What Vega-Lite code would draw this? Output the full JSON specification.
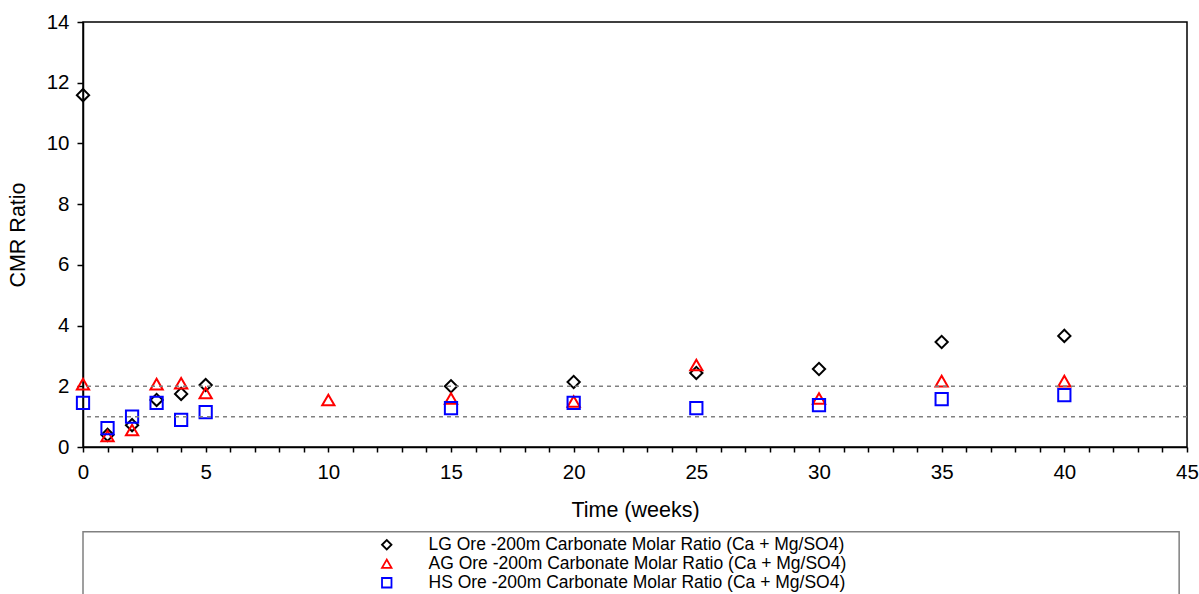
{
  "$schema": "https://vega.github.io/schema/vega-lite/v6.json",
  "width": 1104,
  "height": 425,
  "autosize": {"type": "none"},
  "padding": {"left": 83, "top": 22, "right": 12, "bottom": 147},
  "background": "white",
  "config": {
    "font": "Liberation Sans",
    "view": {"stroke": "#000000", "strokeWidth": 1.5},
    "axis": {"grid": false, "domainColor": "#000000", "domainWidth": 1.5, "tickColor": "#000000", "tickWidth": 1.5, "labelColor": "#000000", "titleColor": "#000000", "labelFont": "Liberation Sans", "titleFont": "Liberation Sans", "labelFontSize": 20.5, "titleFontSize": 21.5, "titleFontWeight": "normal"}
  },
  "datasets": {
    "pts": [
      {"week": 0, "series": "LG Ore -200m Carbonate Molar Ratio (Ca + Mg/SO4)", "cmr": 11.59},
      {"week": 1, "series": "LG Ore -200m Carbonate Molar Ratio (Ca + Mg/SO4)", "cmr": 0.4},
      {"week": 2, "series": "LG Ore -200m Carbonate Molar Ratio (Ca + Mg/SO4)", "cmr": 0.72},
      {"week": 3, "series": "LG Ore -200m Carbonate Molar Ratio (Ca + Mg/SO4)", "cmr": 1.55},
      {"week": 4, "series": "LG Ore -200m Carbonate Molar Ratio (Ca + Mg/SO4)", "cmr": 1.75},
      {"week": 5, "series": "LG Ore -200m Carbonate Molar Ratio (Ca + Mg/SO4)", "cmr": 2.04},
      {"week": 15, "series": "LG Ore -200m Carbonate Molar Ratio (Ca + Mg/SO4)", "cmr": 2.0},
      {"week": 20, "series": "LG Ore -200m Carbonate Molar Ratio (Ca + Mg/SO4)", "cmr": 2.14},
      {"week": 25, "series": "LG Ore -200m Carbonate Molar Ratio (Ca + Mg/SO4)", "cmr": 2.44},
      {"week": 30, "series": "LG Ore -200m Carbonate Molar Ratio (Ca + Mg/SO4)", "cmr": 2.57},
      {"week": 35, "series": "LG Ore -200m Carbonate Molar Ratio (Ca + Mg/SO4)", "cmr": 3.46},
      {"week": 40, "series": "LG Ore -200m Carbonate Molar Ratio (Ca + Mg/SO4)", "cmr": 3.66},
      {"week": 0, "series": "AG Ore -200m Carbonate Molar Ratio (Ca + Mg/SO4)", "cmr": 2.07},
      {"week": 1, "series": "AG Ore -200m Carbonate Molar Ratio (Ca + Mg/SO4)", "cmr": 0.36},
      {"week": 2, "series": "AG Ore -200m Carbonate Molar Ratio (Ca + Mg/SO4)", "cmr": 0.56},
      {"week": 3, "series": "AG Ore -200m Carbonate Molar Ratio (Ca + Mg/SO4)", "cmr": 2.07},
      {"week": 4, "series": "AG Ore -200m Carbonate Molar Ratio (Ca + Mg/SO4)", "cmr": 2.1},
      {"week": 5, "series": "AG Ore -200m Carbonate Molar Ratio (Ca + Mg/SO4)", "cmr": 1.78},
      {"week": 10, "series": "AG Ore -200m Carbonate Molar Ratio (Ca + Mg/SO4)", "cmr": 1.55},
      {"week": 15, "series": "AG Ore -200m Carbonate Molar Ratio (Ca + Mg/SO4)", "cmr": 1.6},
      {"week": 20, "series": "AG Ore -200m Carbonate Molar Ratio (Ca + Mg/SO4)", "cmr": 1.5},
      {"week": 25, "series": "AG Ore -200m Carbonate Molar Ratio (Ca + Mg/SO4)", "cmr": 2.7},
      {"week": 30, "series": "AG Ore -200m Carbonate Molar Ratio (Ca + Mg/SO4)", "cmr": 1.6},
      {"week": 35, "series": "AG Ore -200m Carbonate Molar Ratio (Ca + Mg/SO4)", "cmr": 2.17},
      {"week": 40, "series": "AG Ore -200m Carbonate Molar Ratio (Ca + Mg/SO4)", "cmr": 2.17},
      {"week": 0, "series": "HS Ore -200m Carbonate Molar Ratio (Ca + Mg/SO4)", "cmr": 1.45},
      {"week": 1, "series": "HS Ore -200m Carbonate Molar Ratio (Ca + Mg/SO4)", "cmr": 0.62},
      {"week": 2, "series": "HS Ore -200m Carbonate Molar Ratio (Ca + Mg/SO4)", "cmr": 1.0},
      {"week": 3, "series": "HS Ore -200m Carbonate Molar Ratio (Ca + Mg/SO4)", "cmr": 1.45},
      {"week": 4, "series": "HS Ore -200m Carbonate Molar Ratio (Ca + Mg/SO4)", "cmr": 0.89},
      {"week": 5, "series": "HS Ore -200m Carbonate Molar Ratio (Ca + Mg/SO4)", "cmr": 1.15},
      {"week": 15, "series": "HS Ore -200m Carbonate Molar Ratio (Ca + Mg/SO4)", "cmr": 1.28},
      {"week": 20, "series": "HS Ore -200m Carbonate Molar Ratio (Ca + Mg/SO4)", "cmr": 1.45},
      {"week": 25, "series": "HS Ore -200m Carbonate Molar Ratio (Ca + Mg/SO4)", "cmr": 1.28},
      {"week": 30, "series": "HS Ore -200m Carbonate Molar Ratio (Ca + Mg/SO4)", "cmr": 1.38},
      {"week": 35, "series": "HS Ore -200m Carbonate Molar Ratio (Ca + Mg/SO4)", "cmr": 1.58},
      {"week": 40, "series": "HS Ore -200m Carbonate Molar Ratio (Ca + Mg/SO4)", "cmr": 1.71}
    ],
    "refs": [{"level": 1}, {"level": 2}]
  },
  "layer": [
    {
      "data": {"name": "pts"},
      "mark": {"type": "point", "filled": false, "strokeWidth": 2, "size": 150, "opacity": 1},
      "encoding": {
        "x": {
          "field": "week", "type": "quantitative",
          "scale": {"domain": [0, 45], "nice": false},
          "axis": {
            "title": "Time (weeks)",
            "values": [0,1,2,3,4,5,6,7,8,9,10,11,12,13,14,15,16,17,18,19,20,21,22,23,24,25,26,27,28,29,30,31,32,33,34,35,36,37,38,39,40,41,42,43,44,45],
            "labelExpr": "datum.value % 5 === 0 ? datum.label : ''",
            "labelOverlap": false,
            "labelFlush": false,
            "tickSize": 5,
            "labelPadding": 10,
            "titlePadding": 17
          }
        },
        "y": {
          "field": "cmr", "type": "quantitative",
          "scale": {"domain": [0, 14], "nice": false},
          "axis": {"title": "CMR Ratio", "values": [0, 2, 4, 6, 8, 10, 12, 14], "tickSize": 6, "labelPadding": 8, "titlePadding": 17}
        },
        "shape": {
          "field": "series", "type": "nominal",
          "scale": {
            "domain": ["LG Ore -200m Carbonate Molar Ratio (Ca + Mg/SO4)", "AG Ore -200m Carbonate Molar Ratio (Ca + Mg/SO4)", "HS Ore -200m Carbonate Molar Ratio (Ca + Mg/SO4)"],
            "range": ["diamond", "triangle-up", "square"]
          },
          "legend": {
            "title": null,
            "orient": "none",
            "legendX": 295,
            "legendY": 514,
            "padding": 0,
            "labelFont": "Liberation Sans",
            "labelFontSize": 17.5,
            "labelColor": "#000000",
            "symbolSize": 90,
            "symbolStrokeWidth": 1.8,
            "rowPadding": 0,
            "labelOffset": 33,
            "labelLimit": 800
          }
        },
        "color": {
          "field": "series", "type": "nominal",
          "scale": {
            "domain": ["LG Ore -200m Carbonate Molar Ratio (Ca + Mg/SO4)", "AG Ore -200m Carbonate Molar Ratio (Ca + Mg/SO4)", "HS Ore -200m Carbonate Molar Ratio (Ca + Mg/SO4)"],
            "range": ["#000000", "#FF0000", "#0000FF"]
          },
          "legend": {
            "title": null,
            "orient": "none",
            "legendX": 295,
            "legendY": 514,
            "padding": 0,
            "labelFont": "Liberation Sans",
            "labelFontSize": 17.5,
            "labelColor": "#000000",
            "symbolSize": 90,
            "symbolStrokeWidth": 1.8,
            "rowPadding": 0,
            "labelOffset": 33,
            "labelLimit": 800
          }
        }
      }
    },
    {
      "data": {"name": "refs"},
      "mark": {"type": "rule", "color": "#808080", "strokeWidth": 1.5, "strokeDash": [4, 4]},
      "encoding": {
        "y": {"field": "level", "type": "quantitative", "scale": {"domain": [0, 14], "nice": false},
          "axis": {"title": "CMR Ratio", "values": [0, 2, 4, 6, 8, 10, 12, 14], "tickSize": 6, "labelPadding": 8, "titlePadding": 17}}
      }
    },
    {
      "data": {"values": [{}]},
      "mark": {"type": "rect", "filled": false, "stroke": "#808080", "strokeWidth": 1.5},
      "encoding": {
        "x": {"datum": 0, "type": "quantitative", "scale": {"domain": [0, 45], "nice": false},
          "axis": {
            "title": "Time (weeks)",
            "values": [0,1,2,3,4,5,6,7,8,9,10,11,12,13,14,15,16,17,18,19,20,21,22,23,24,25,26,27,28,29,30,31,32,33,34,35,36,37,38,39,40,41,42,43,44,45],
            "labelExpr": "datum.value % 5 === 0 ? datum.label : ''",
            "labelOverlap": false,
            "labelFlush": false,
            "tickSize": 5,
            "labelPadding": 10,
            "titlePadding": 17
          }},
        "x2": {"datum": 44.68},
        "y": {"datum": -2.79, "type": "quantitative", "scale": {"domain": [0, 14], "nice": false},
          "axis": {"title": "CMR Ratio", "values": [0, 2, 4, 6, 8, 10, 12, 14], "tickSize": 6, "labelPadding": 8, "titlePadding": 17}},
        "y2": {"datum": -6}
      }
    }
  ]
}
